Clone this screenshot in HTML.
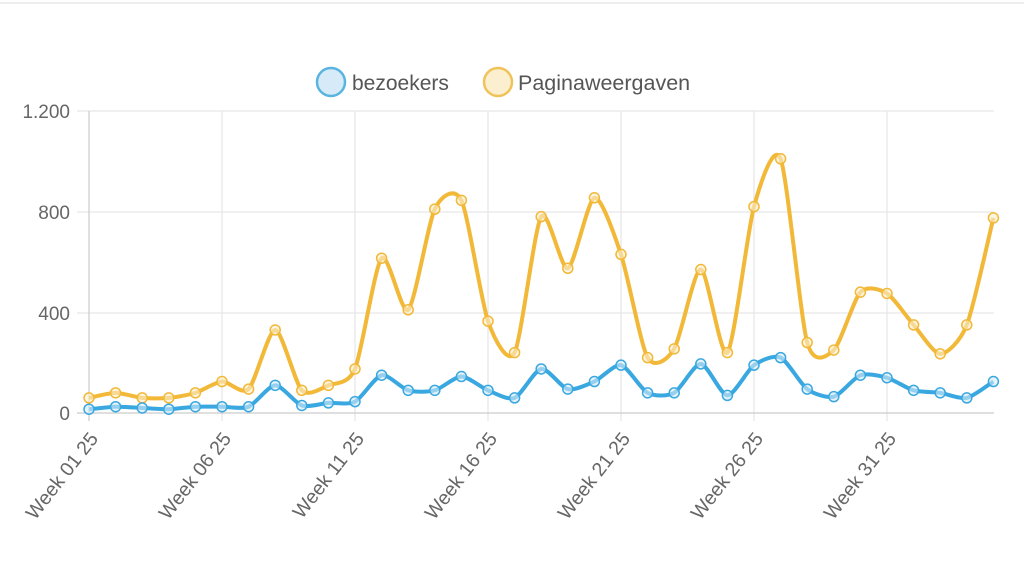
<!DOCTYPE html>
<html><head><meta charset="utf-8"><style>
html,body{margin:0;padding:0;background:#fff;width:1024px;height:569px;overflow:hidden}
svg{display:block;font-family:"Liberation Sans",sans-serif}
</style></head><body>
<svg id="c" width="1024" height="569" viewBox="0 0 1024 569">
<line x1="0" y1="3" x2="1024" y2="3" stroke="#eee" stroke-width="2"/>
<g stroke="#e6e6e6" stroke-width="1.2">
<line x1="77" y1="111" x2="994" y2="111"/>
<line x1="77" y1="212" x2="994" y2="212"/>
<line x1="77" y1="313" x2="994" y2="313"/>
<line x1="222" y1="111" x2="222" y2="421"/>
<line x1="355" y1="111" x2="355" y2="421"/>
<line x1="488" y1="111" x2="488" y2="421"/>
<line x1="621" y1="111" x2="621" y2="421"/>
<line x1="754" y1="111" x2="754" y2="421"/>
<line x1="887" y1="111" x2="887" y2="421"/>
</g>
<line x1="77" y1="413" x2="994" y2="413" stroke="#ccc" stroke-width="1.2"/>
<line x1="89" y1="111" x2="89" y2="421" stroke="#ccc" stroke-width="1.2"/>
<g fill="#666" font-size="19" text-anchor="end">
<text x="70" y="118">1.200</text>
<text x="70" y="219">800</text>
<text x="70" y="320">400</text>
<text x="70" y="420">0</text>
</g>
<g fill="#666" font-size="19.5" text-anchor="end">
<text transform="translate(99,439) rotate(-52)">Week 01 25</text>
<text transform="translate(232,439) rotate(-52)">Week 06 25</text>
<text transform="translate(365,439) rotate(-52)">Week 11 25</text>
<text transform="translate(498,439) rotate(-52)">Week 16 25</text>
<text transform="translate(631,439) rotate(-52)">Week 21 25</text>
<text transform="translate(764,439) rotate(-52)">Week 26 25</text>
<text transform="translate(897,439) rotate(-52)">Week 31 25</text>
</g>
<circle cx="331" cy="82" r="14" fill="#d6ebf7" stroke="#5ab4e0" stroke-width="2.5"/>
<text x="352" y="90" fill="#555" font-size="21">bezoekers</text>
<circle cx="498" cy="82" r="14" fill="#fbefcf" stroke="#f0c35a" stroke-width="2.5"/>
<text x="518" y="90" fill="#555" font-size="21.5">Paginaweergaven</text>
<g id="series"></g>
</svg>
<script>
var Y=[60,80,60,60,80,125,95,330,90,110,175,615,410,810,845,365,240,780,575,855,630,220,255,570,240,820,1010,280,250,480,475,350,235,350,775];
var B=[15,25,20,15,25,25,25,110,30,40,45,150,90,90,145,90,60,175,95,125,190,80,80,195,70,190,220,95,65,150,140,90,80,60,125];
function pts(a){return a.map(function(v,i){return [89+i*26.6,413-v*0.2517];});}
function path(p){var t=0.25,d="M"+p[0][0]+","+p[0][1];
for(var i=0;i<p.length-1;i++){var p0=p[i-1]||p[i],p1=p[i],p2=p[i+1],p3=p[i+2]||p2;
var c1=[p1[0]+(p2[0]-p0[0])*t/2,p1[1]+(p2[1]-p0[1])*t/2],c2=[p2[0]-(p3[0]-p1[0])*t/2,p2[1]-(p3[1]-p1[1])*t/2];
d+=" C"+c1+" "+c2+" "+p2;}return d;}
var g=document.getElementById("series"),ns="http://www.w3.org/2000/svg";
[[Y,"#f2b838","#fbefcf"],[B,"#3aa8e0","#d6ebf7"]].forEach(function(s){
var p=pts(s[0]);var e=document.createElementNS(ns,"path");e.setAttribute("d",path(p));
e.setAttribute("fill","none");e.setAttribute("stroke",s[1]);e.setAttribute("stroke-width","4");g.appendChild(e);
p.forEach(function(q){var c=document.createElementNS(ns,"circle");c.setAttribute("cx",q[0]);c.setAttribute("cy",q[1]);c.setAttribute("r","5");
c.setAttribute("fill",s[2]);c.setAttribute("fill-opacity","0.6");c.setAttribute("stroke",s[1]);c.setAttribute("stroke-width","1.5");g.appendChild(c);});});
</script>
</body></html>
